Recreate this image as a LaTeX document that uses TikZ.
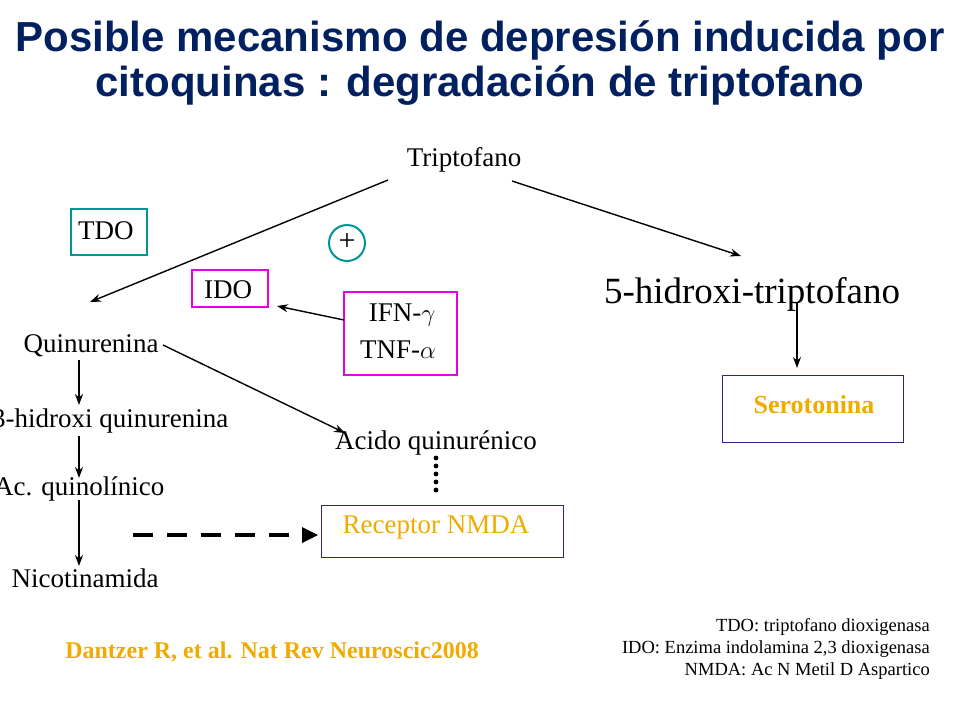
\documentclass[tikz,border=0pt]{standalone}
\usepackage{fontspec}
\setmainfont{Liberation Serif}
\newfontfamily\titlefont{Liberation Sans}
\usetikzlibrary{arrows.meta}
\definecolor{navy}{RGB}{0,32,96}
\definecolor{teal2}{RGB}{0,150,150}
\definecolor{mag}{RGB}{230,0,230}
\definecolor{orng}{RGB}{240,170,0}
\definecolor{bnavy}{RGB}{40,40,130}
\begin{document}
\begin{tikzpicture}[x=1pt,y=-1pt,
  t/.style={font=\fontsize{27}{29}\selectfont, inner sep=0},
  arr/.style={-{Stealth[length=11pt,width=8pt]}, line width=1.4pt},
  bx/.style={draw, line width=2pt}]
\useasboundingbox (0,0) rectangle (960,720);
\node[font=\titlefont\bfseries\fontsize{42}{45}\selectfont, text=navy, align=center] (title) at (480,63) {Posible mecanismo de depresión inducida por\\citoquinas : degradación de triptofano};
\node[t] (trp) at (464,160) {Triptofano};
\coordinate (trpL) at (388,180); \coordinate (trpR) at (512,181);
\node[t] (hq) at (91,346) {Quinurenina};
\node[t, font=\fontsize{37}{39}\selectfont] (htrp) at (752,294) {5-hidroxi-triptofano};
\draw[arr] (trpL) -- (90,302);
\draw[arr] (trpR) -- (741,256);
\draw[bx, teal2] (71,209) rectangle (147,255);
\node[t, anchor=west] (tdo) at (78,231) {TDO};
\draw[teal2, line width=2pt] (347,243) circle (18);
\node[t, font=\fontsize{30}{30}\selectfont] (plus) at (347,242) {+};
\draw[bx, mag] (192,270) rectangle (268,307);
\node[t, anchor=west] (ido) at (204,290) {IDO};
\draw[bx, mag] (344,292) rectangle (457,375);
\node[t] (ifn) at (402,315) {IFN-$\gamma$};
\node[t] (tnf) at (398,350) {TNF-$\alpha$};
\draw[arr] (344,320) -- (277,306);
\draw[arr] (797,302) -- (797,368);
\draw[bnavy, line width=0.8pt] (722,375) rectangle (903,442);
\node[t, text=orng, font=\bfseries\fontsize{26}{28}\selectfont] (ser) at (814,405) {Serotonina};
\node[t] (aq) at (436,443) {Acido quinurénico};
\draw[arr] (163,345) -- (345,433);
\foreach \y in {458,466,474,482,490} \fill (436,\y) circle (2.4);
\node[t, anchor=west] (hq3) at (-8,421) {3-hidroxi quinurenina};
\node[t, anchor=west] (acq) at (-6,489) {Ac. quinolínico};
\node[t] (nic) at (85,578) {Nicotinamida};
\draw[arr] (79,360) -- (79,405);
\draw[arr] (79,436) -- (79,478);
\draw[arr] (79,500) -- (79,566);
\draw[bnavy, line width=0.8pt] (321,505) rectangle (563,557);
\node[t, text=orng] (nmda) at (436,527) {Receptor NMDA};
\draw[line width=4.5pt, dash pattern=on 20pt off 14pt] (133,535) -- (302,535);
\fill (302,527) -- (318,535) -- (302,543) -- cycle;
\node[t, text=orng, font=\bfseries\fontsize{24}{26}\selectfont] (cit) at (272,652) {Dantzer R, et al. Nat Rev Neuroscic2008};
\node[t, anchor=east, font=\fontsize{18.5}{20}\selectfont] (l1) at (930,627) {TDO: triptofano dioxigenasa};
\node[t, anchor=east, font=\fontsize{18.5}{20}\selectfont] (l2) at (930,649) {IDO: Enzima indolamina 2,3 dioxigenasa};
\node[t, anchor=east, font=\fontsize{18.5}{20}\selectfont] (l3) at (930,671) {NMDA: Ac N Metil D Aspartico};
\end{tikzpicture}
\end{document}
